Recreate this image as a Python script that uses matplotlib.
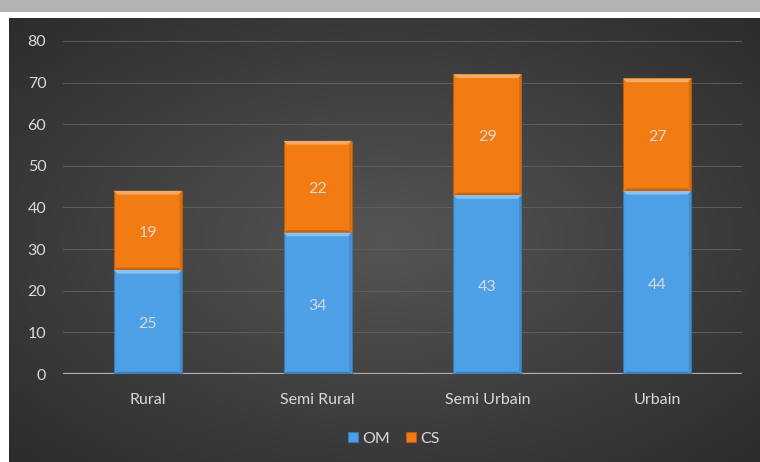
import numpy as np
import matplotlib
matplotlib.use("Agg")
import matplotlib.pyplot as plt
from matplotlib.patches import Polygon
from matplotlib.colors import to_rgb

categories = ["Rural", "Semi Rural", "Semi Urbain", "Urbain"]
om_values = [25, 34, 43, 44]
cs_values = [19, 22, 29, 27]
series_names = ["OM", "CS"]

blue = "#4d9fe6"
orange = "#f27c12"
text_col = "#d9d9d9"

plt.rcParams["font.family"] = ["Lato", "DejaVu Sans"]

fig = plt.figure(figsize=(7.6, 4.62), dpi=100)
fig.patch.set_facecolor("white")

# grey band on top and dark radial-gradient chart area
band = fig.add_axes([0, 1 - 12 / 462, 1, 12 / 462])
band.set_facecolor("#b3b3b3")
band.set_xticks([]); band.set_yticks([])
for s in band.spines.values():
    s.set_visible(False)

bg = fig.add_axes([9 / 760, 0, 751 / 760, 444 / 462])
yy, xx = np.mgrid[-1:1:300j, -1:1:500j]
r = np.sqrt(xx ** 2 + yy ** 2) / np.sqrt(2)
c0 = np.array(to_rgb("#555555"))
c1 = np.array(to_rgb("#2c2c2c"))
img = c0[None, None, :] * (1 - r[..., None]) + c1[None, None, :] * r[..., None]
bg.imshow(img, aspect="auto", extent=[0, 1, 0, 1], interpolation="bilinear")
bg.set_axis_off()

ax = fig.add_axes([63 / 760, 88 / 462, 679 / 760, 333 / 462])
ax.set_facecolor("none")
x = np.arange(len(categories))
width = 0.4

ax.set_xlim(-0.5, len(categories) - 0.5)
ax.set_ylim(0, 80)
ax.set_yticks(np.arange(0, 81, 10))
ax.yaxis.grid(True, color="#5e5e5e", linewidth=0.7)
ax.set_axisbelow(True)
for s in ax.spines.values():
    s.set_visible(False)
ax.axhline(0, color="#b0b0b0", linewidth=1.6, zorder=1)
ax.tick_params(axis="y", length=0, pad=12, labelsize=11.5, labelcolor=text_col)
ax.tick_params(axis="x", length=0, pad=14, labelsize=11.5, labelcolor=text_col)
ax.set_xticks(x)
ax.set_xticklabels(categories)


def lighten(c, f):
    c = np.array(to_rgb(c))
    return tuple(c + (1 - c) * f)


def darken(c, f):
    c = np.array(to_rgb(c))
    return tuple(c * (1 - f))


def bevel_bars(xs, heights, bottoms, color, label):
    ax.bar(xs, heights, width, bottom=bottoms, color=color, label=label,
           edgecolor=darken(color, 0.25), linewidth=0.8, zorder=3)
    bw = 0.022  # bevel thickness in axis units (x)
    bh = 0.9    # bevel thickness in data units (y)
    for xi, h, b in zip(xs, heights, bottoms):
        l, rgt = xi - width / 2, xi + width / 2
        top = b + h
        ax.add_patch(Polygon([(l, top), (rgt, top), (rgt - bw, top - bh), (l + bw, top - bh)],
                             closed=True, facecolor=lighten(color, 0.35), edgecolor="none", zorder=4))
        ax.add_patch(Polygon([(l, b), (rgt, b), (rgt - bw, b + bh * 0.6), (l + bw, b + bh * 0.6)],
                             closed=True, facecolor=darken(color, 0.2), edgecolor="none", zorder=4))
        ax.add_patch(Polygon([(rgt, b), (rgt, top), (rgt - bw * 0.6, top - bh), (rgt - bw * 0.6, b + bh * 0.6)],
                             closed=True, facecolor=darken(color, 0.12), edgecolor="none", zorder=4))
        ax.text(xi, b + h / 2 - 0.6, str(h), ha="center", va="center", color=text_col,
                fontsize=11.5, zorder=5)


bevel_bars(x, om_values, [0] * len(om_values), blue, series_names[0])
bevel_bars(x, cs_values, om_values, orange, series_names[1])

leg = fig.legend(loc="center", bbox_to_anchor=(394 / 760, 1 - 439 / 462), ncol=2,
                 frameon=False, fontsize=11.5, handlelength=0.6, handleheight=0.6,
                 handletextpad=0.3, columnspacing=1.0)
for t in leg.get_texts():
    t.set_color(text_col)

fig.savefig("out.png", dpi=100, facecolor=fig.get_facecolor())
